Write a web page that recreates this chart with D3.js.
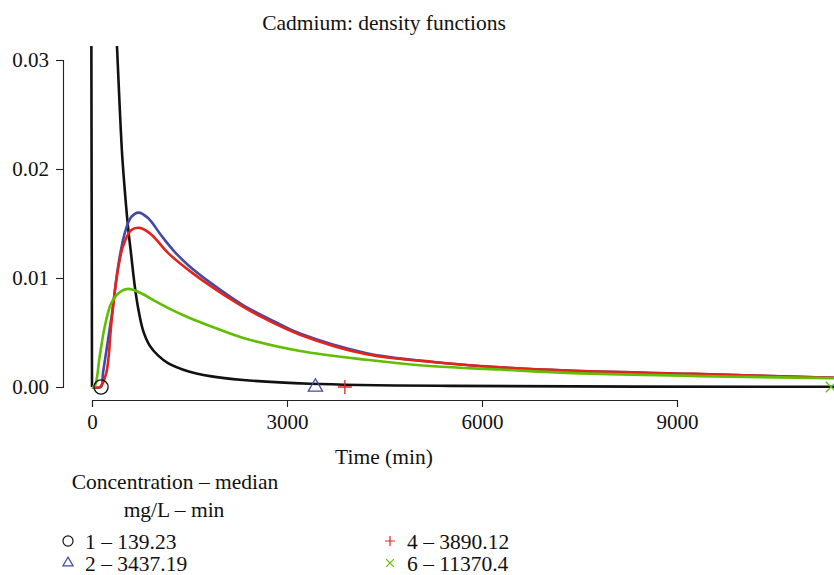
<!DOCTYPE html>
<html>
<head>
<meta charset="utf-8">
<script src="https://cdn.jsdelivr.net/npm/d3@7"></script>
<style>
  body { margin: 0; background: #fff; }
  text { font-family: "Liberation Serif", "DejaVu Serif", serif; fill: #111; }
</style>
</head>
<body>
<svg></svg>
<script>

	var width = 834,
		height = 575;

	// density curves: time (min) and density
	var blackX = [0, 5, 200, 360, 385, 426, 466, 512, 554, 605, 657, 708, 785, 888, 1015, 1169, 1477, 1815, 2323, 3354, 5508, 11415, 13000];
	var blackY = [0, 0.06, 0.12, 0.034, 0.0312, 0.0257, 0.0211, 0.0175, 0.0147, 0.0120, 0.0093, 0.0073, 0.0052, 0.0038, 0.0029, 0.0022, 0.00145, 0.00100, 0.00064, 0.00030, 0.00010, 0.00002, 0.00001];

	var blueX = [0, 138, 169, 246, 323, 400, 503, 605, 718, 862, 1066, 1272, 1477, 1815, 2328, 2842, 3200, 4226, 5251, 6277, 7303, 9246, 11415, 13000];
	var blueY = [0, 0, 0.0013, 0.0043, 0.0074, 0.0110, 0.0141, 0.0156, 0.0160, 0.0155, 0.0139, 0.0124, 0.0112, 0.0096, 0.0075, 0.0059, 0.0049, 0.0031, 0.0023, 0.0018, 0.0015, 0.0012, 0.00085, 0.0007];

	var redX = [0, 123, 220, 297, 374, 477, 605, 734, 912, 1169, 1558, 2072, 2585, 3200, 4226, 5251, 6277, 7303, 9246, 11415, 13000];
	var redY = [0, 0, 0.0013, 0.0058, 0.0098, 0.0129, 0.0144, 0.0146, 0.0140, 0.0123, 0.0104, 0.0083, 0.0065, 0.0048, 0.0030, 0.0023, 0.0018, 0.0015, 0.0012, 0.00085, 0.0007];

	var greenX = [0, 42, 118, 195, 297, 426, 554, 758, 965, 1220, 1477, 1815, 2328, 3200, 4226, 5251, 6277, 7303, 11415, 13000];
	var greenY = [0, 0.0001, 0.0028, 0.0055, 0.0077, 0.0087, 0.0090, 0.0086, 0.0079, 0.0071, 0.0064, 0.0056, 0.0045, 0.0033, 0.0025, 0.0019, 0.0016, 0.0013, 0.0008, 0.0007];

	var seriesNames = ["1 – 139.23", "2 – 3437.19", "4 – 3890.12", "6 – 11370.4"];
	var medians = [139.23, 3437.19, 3890.12, 11370.4];
	var colors = ["#111111", "#4349a6", "#e2251c", "#60bd00"];
	var symbols = ["circle", "triangle", "plus", "cross"];

	var xTicks = [0, 3000, 6000, 9000];
	var yTicks = [0, 0.01, 0.02, 0.03];

	var series = [
		{ xs: blackX, ys: blackY },
		{ xs: blueX, ys: blueY },
		{ xs: redX, ys: redY },
		{ xs: greenX, ys: greenY }
	].map(function(s, i) {
		return {
			name: seriesNames[i],
			median: medians[i],
			color: colors[i],
			symbol: symbols[i],
			values: s.xs.map(function(x, j) { return { x: x, y: s.ys[j] }; })
		};
	});

	var x = d3.scaleLinear().domain([0, 9000]).range([92, 677]);
	var y = d3.scaleLinear().domain([0, 0.03]).range([387, 60]);

	var svg = d3.select("svg")
		.attr("width", width)
		.attr("height", height);

	svg.append("clipPath")
		.attr("id", "plotclip")
		.append("rect")
		.attr("x", 70)
		.attr("y", 46)
		.attr("width", 780)
		.attr("height", 350);

	// axes, R style
	var yAxis = svg.append("g")
		.attr("transform", "translate(63,0)")
		.call(d3.axisLeft(y).tickValues(yTicks).tickFormat(d3.format(".2f")).tickSizeOuter(0).tickSize(7).tickPadding(7));

	var xAxis = svg.append("g")
		.attr("transform", "translate(0,400)")
		.call(d3.axisBottom(x).tickValues(xTicks).tickFormat(d3.format("d")).tickSizeOuter(0).tickSize(7).tickPadding(7));

	[yAxis, xAxis].forEach(function(a) {
		a.attr("font-family", null).attr("font-size", null);
		a.selectAll("text").style("font-size", "21px").attr("fill", "#111");
		a.selectAll("path, line").attr("stroke", "#222").attr("stroke-width", 1.1);
	});
	yAxis.selectAll("text").attr("dy", "0.33em");
	xAxis.selectAll("text").attr("dy", "0.72em");

	var line = d3.line()
		.x(function(d) { return x(d.x); })
		.y(function(d) { return y(d.y); })
		.curve(d3.curveCatmullRom.alpha(0.5));

	var plot = svg.append("g").attr("clip-path", "url(#plotclip)");

	plot.selectAll(".curve")
		.data(series)
		.enter()
		.append("path")
		.attr("class", "curve")
		.attr("d", function(d) { return line(d.values); })
		.attr("fill", "none")
		.attr("stroke", function(d) { return d.color; })
		.attr("stroke-width", 2.6)
		.attr("stroke-linejoin", "round");

	var symbolPath = function(kind, s) {
		if (kind == "circle") return d3.symbol().type(d3.symbolCircle).size(s * s * 0.8)();
		if (kind == "triangle") return d3.symbol().type(d3.symbolTriangle).size(s * s * 0.45)();
		if (kind == "plus") return "M" + (-s / 2) + ",0H" + (s / 2) + "M0," + (-s / 2) + "V" + (s / 2);
		var h = s * 0.38;
		return "M" + (-h) + "," + (-h) + "L" + h + "," + h + "M" + (-h) + "," + h + "L" + h + "," + (-h);
	};

	plot.selectAll(".median")
		.data(series)
		.enter()
		.append("path")
		.attr("class", "median")
		.attr("transform", function(d) { return "translate(" + x(d.median) + "," + y(0) + ")"; })
		.attr("d", function(d) { return symbolPath(d.symbol, 14); })
		.attr("fill", "none")
		.attr("stroke", function(d) { return d.color; })
		.attr("stroke-width", 1.3);

	// titles
	svg.append("text")
		.attr("x", 384)
		.attr("y", 22)
		.attr("dy", "0.35em")
		.attr("text-anchor", "middle")
		.style("font-size", "21.5px")
		.text("Cadmium: density functions");

	svg.append("text")
		.attr("x", 384)
		.attr("y", 456)
		.attr("dy", "0.35em")
		.attr("text-anchor", "middle")
		.style("font-size", "21.5px")
		.text("Time (min)");

	// legend
	var legend = svg.append("g");

	legend.append("text")
		.attr("x", 175)
		.attr("y", 481)
		.attr("dy", "0.35em")
		.attr("text-anchor", "middle")
		.style("font-size", "21.5px")
		.text("Concentration – median");

	legend.append("text")
		.attr("x", 174)
		.attr("y", 509)
		.attr("dy", "0.35em")
		.attr("text-anchor", "middle")
		.style("font-size", "21.5px")
		.text("mg/L – min");

	var items = legend.selectAll(".item")
		.data(series)
		.enter()
		.append("g")
		.attr("class", "item")
		.attr("transform", function(d, i) {
			return "translate(" + (i < 2 ? 68 : 390) + "," + (i % 2 == 0 ? 541 : 563) + ")";
		});

	items.append("path")
		.attr("d", function(d) { return symbolPath(d.symbol, 10); })
		.attr("fill", "none")
		.attr("stroke", function(d) { return d.color; })
		.attr("stroke-width", 1.2);

	items.append("text")
		.attr("x", 17)
		.attr("dy", "0.35em")
		.style("font-size", "21.5px")
		.text(function(d) { return d.name; });

</script>
</body>
</html>
